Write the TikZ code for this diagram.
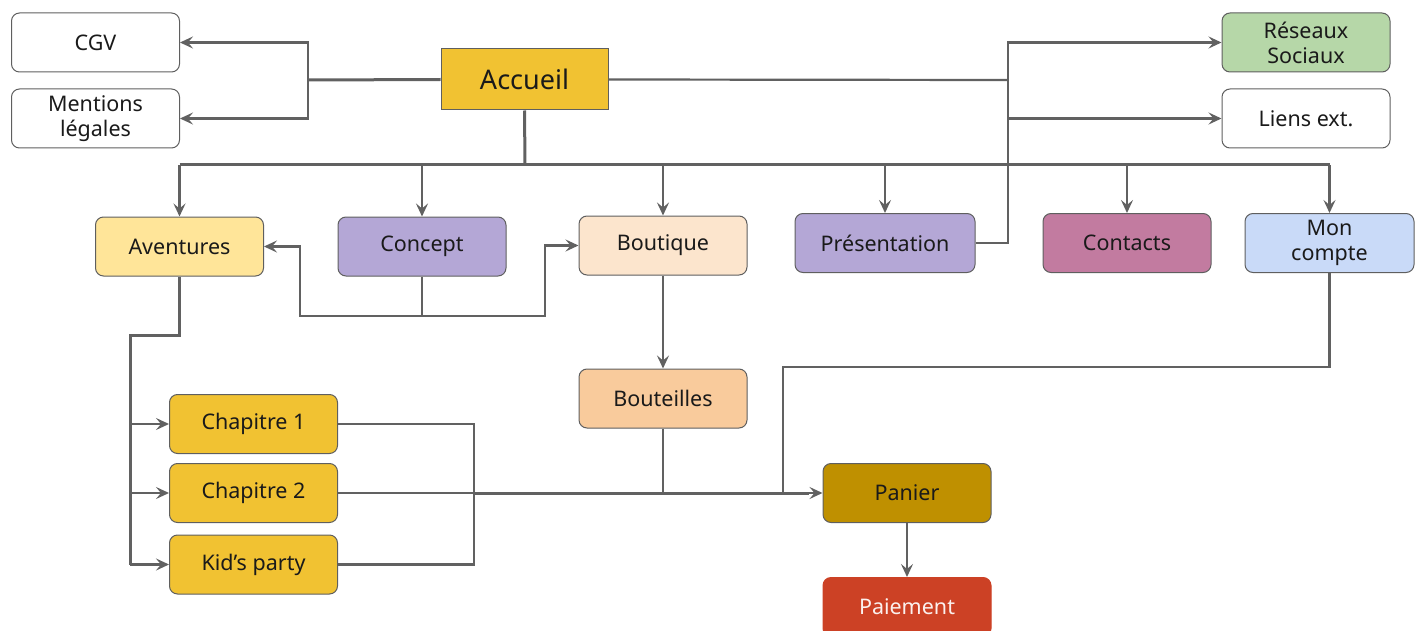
\documentclass[tikz,border=0pt]{standalone}
\usepackage{fontspec}
\setmainfont{Noto Sans}
\usetikzlibrary{arrows.meta}
\definecolor{ln}{HTML}{616161}
\definecolor{bd}{HTML}{5F5F5F}
\definecolor{cgold}{HTML}{F1C232}
\definecolor{cavent}{HTML}{FFE599}
\definecolor{cconc}{HTML}{B4A7D6}
\definecolor{cbout}{HTML}{FCE5CD}
\definecolor{ccont}{HTML}{C27BA0}
\definecolor{cmc}{HTML}{C9DAF8}
\definecolor{cbtl}{HTML}{F9CB9C}
\definecolor{cpan}{HTML}{BF9000}
\definecolor{cpai}{HTML}{CC4125}
\definecolor{cres}{HTML}{B6D7A8}
\definecolor{txt}{HTML}{1A1A1A}
\tikzset{
  box/.style={draw=bd, line width=1pt, rounded corners=8pt, minimum width=168pt,
    minimum height=59pt, align=center, inner sep=1pt, text=txt,
    font=\fontsize{21.5}{25}\selectfont},
  conn/.style={draw=ln, line width=2.2pt},
  thick conn/.style={draw=ln, line width=3pt},
  arr/.style={conn, -{Stealth[length=13pt,width=12pt,inset=5pt]}},
}
\begin{document}
\begin{tikzpicture}[x=1pt,y=-1pt]
\useasboundingbox (0,0) rectangle (1418,631);
% nodes
\node[box] (cgv) at (95.5,42.5) {CGV};
\node[box] (ml) at (95.5,118.5) {Mentions\\légales};
\node[box, rounded corners=0pt, fill=cgold, minimum width=167pt, minimum height=61pt,
  font=\fontsize{27}{31}\selectfont] (acc) at (524.5,79.5) {Accueil};
\node[box, fill=cres] (rs) at (1306,42.5) {Réseaux\\Sociaux};
\node[box] (le) at (1306,118.5) {Liens ext.};
\node[box, fill=cavent] (aven) at (179.5,246.5) {Aventures};
\node[box, fill=cconc] (conc) at (422,246.5) {Concept};
\node[box, fill=cbout] (bout) at (663,245.5) {Boutique};
\node[box, fill=cconc, minimum width=180pt] (pres) at (885,243) {Présentation};
\node[box, fill=ccont] (cont) at (1127,243) {Contacts};
\node[box, fill=cmc, minimum width=169pt] (mc) at (1329.5,243) {Mon\\compte};
\node[box, fill=cbtl] (btl) at (663,398.5) {Bouteilles};
\node[box, fill=cgold] (ch1) at (253.5,424) {Chapitre 1};
\node[box, fill=cgold] (ch2) at (253.5,493) {Chapitre 2};
\node[box, fill=cgold] (kid) at (253.5,564.5) {Kid’s party};
\node[box, fill=cpan] (pan) at (907,493) {Panier};
\node[box, fill=cpai, draw=cpai, text=white!92!cpai] (pai) at (907,607) {Paiement};
% left of Accueil
\coordinate (jl) at (308,80);
\draw[thick conn] (acc.west) -- (jl);
\draw[arr] (jl) |- (cgv.east);
\draw[arr] (jl) |- (ml.east);
% right of Accueil
\coordinate (jr) at (1008,80);
\draw[conn] (acc.east) -- (jr);
\draw[arr] (pres.east) -- (pres.east -| jr) |- (rs.west);
\draw[arr] (jr |- le.west) -- (le.west);
% bus below Accueil
\coordinate (bus) at (525,165);
\draw[thick conn] (acc.south) -- (bus);
\draw[thick conn] (aven.north |- bus) -- (mc.north |- bus);
\foreach \n in {aven,conc,bout,pres,cont,mc}
  \draw[arr] (\n.north |- bus) -- (\n.north);
% Concept
\coordinate (cj) at (422,316);
\draw[conn] (conc.south) -- (cj);
\draw[arr] (cj) -- ++(-122,0) |- (aven.east);
\draw[arr] (cj) -- ++(123,0) |- (bout.west);
% Boutique -> Bouteilles
\draw[arr] (bout.south) -- (btl.north);
% Aventures -> chapters
\coordinate (aj) at (130,335);
\draw[thick conn] (aven.south) |- (aj) -- (aj |- kid.west);
\foreach \n in {ch1,ch2,kid}
  \draw[arr] (aj |- \n.west) -- (\n.west);
% chapters -> Panier
\coordinate (cx) at (474,493);
\draw[conn] (ch1.east) -| (cx);
\draw[conn] (kid.east) -| (cx);
\draw[arr] (ch2.east) -- (pan.west);
\draw[thick conn] (cx) -- ([xshift=-14pt]pan.west);
\draw[conn] (btl.south) -- (btl.south |- pan.west);
\coordinate (mj) at (783,367);
\draw[conn] (mc.south) |- (mj) -- (mj |- pan.west);
% Panier -> Paiement
\draw[arr] (pan.south) -- (pai.north);
\end{tikzpicture}
\end{document}
